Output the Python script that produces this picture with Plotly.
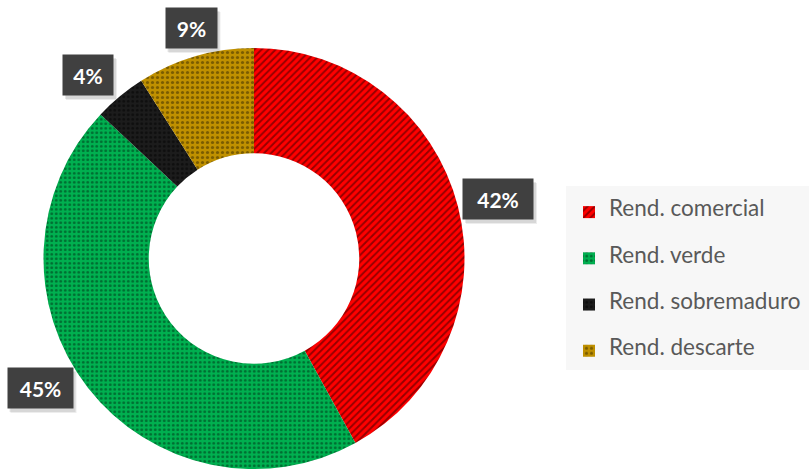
import plotly.graph_objects as go

# Yield breakdown (share of total, %)
categories = ["Rend. comercial", "Rend. verde", "Rend. sobremaduro", "Rend. descarte"]
shares = [42, 45, 4, 9]

slice_colors = ["#ff0000", "#00b050", "#1c1c1c", "#bf9000"]
pattern_fg = ["#2a0000", "#002a12", "#000000", "#382900"]
pattern_shape = ["/", ".", ".", "."]
pattern_size = [5, 4.5, 4.5, 5]
pattern_solid = [0.38, 0.33, 0.33, 0.33]

# Callout boxes: centre (px) and outer size (px)
label_pos_px = [(498, 199), (40, 388), (88, 75), (191, 28)]
label_box_w = [70, 65, 50, 51]
label_box_h = 40

W, H = 809, 469
PAD = 10

# Legend entries: padded with blank lines so each row is taller
legend_names = [f"<br><span style='font-size:22.5px'>{c}</span><br>" for c in categories]

fig = go.Figure()
fig.add_trace(go.Pie(
    labels=legend_names,
    values=shares,
    hole=0.5,
    sort=False,
    direction="clockwise",
    rotation=0,
    textinfo="none",
    hoverinfo="skip",
    marker=dict(
        colors=slice_colors,
        line=dict(width=0),
        pattern=dict(
            shape=pattern_shape,
            fgcolor=pattern_fg,
            size=pattern_size,
            solidity=pattern_solid,
            fillmode="overlay",
        ),
    ),
    domain=dict(x=[43 / W, 465 / W], y=[0, 421 / H]),
))

shapes = [dict(
    type="rect", xref="paper", yref="paper",
    x0=566 / W, x1=1, y0=1 - 370 / H, y1=1 - 186 / H,
    fillcolor="#f7f7f7", line=dict(width=0), layer="below",
)]

annotations = []
for v, (px, py), bw in zip(shares, label_pos_px, label_box_w):
    ax, ay = px / W, 1 - py / H
    # soft drop shadow behind each callout
    for k, alpha in ((4, 0.07), (3, 0.09)):
        shapes.append(dict(
            type="rect", xref="paper", yref="paper",
            xsizemode="pixel", ysizemode="pixel", xanchor=ax, yanchor=ay,
            x0=-bw / 2 + k - 1, x1=bw / 2 + k,
            y0=-label_box_h / 2 - k - 1, y1=label_box_h / 2 - k,
            fillcolor=f"rgba(0,0,0,{alpha})", line=dict(width=0), layer="above",
        ))
    annotations.append(dict(
        text=f"<b>{v}%</b>", x=ax, y=ay, xref="paper", yref="paper",
        xanchor="center", yanchor="middle", showarrow=False,
        width=bw - 2 * PAD, height=label_box_h - 2 * PAD,
        font=dict(family="Lato", size=21, color="#ffffff"),
        bgcolor="#404040", borderpad=PAD,
    ))

fig.update_layout(
    width=W, height=H,
    margin=dict(l=0, r=0, t=0, b=0),
    paper_bgcolor="#ffffff",
    plot_bgcolor="#ffffff",
    showlegend=True,
    legend=dict(
        x=569 / W, y=1 - 184 / H, xanchor="left", yanchor="top",
        bgcolor="rgba(0,0,0,0)", borderwidth=0,
        font=dict(family="Lato", size=11.08, color="#595959"),
        valign="middle",
    ),
    shapes=shapes,
    annotations=annotations,
)

fig.write_html("out.html")
